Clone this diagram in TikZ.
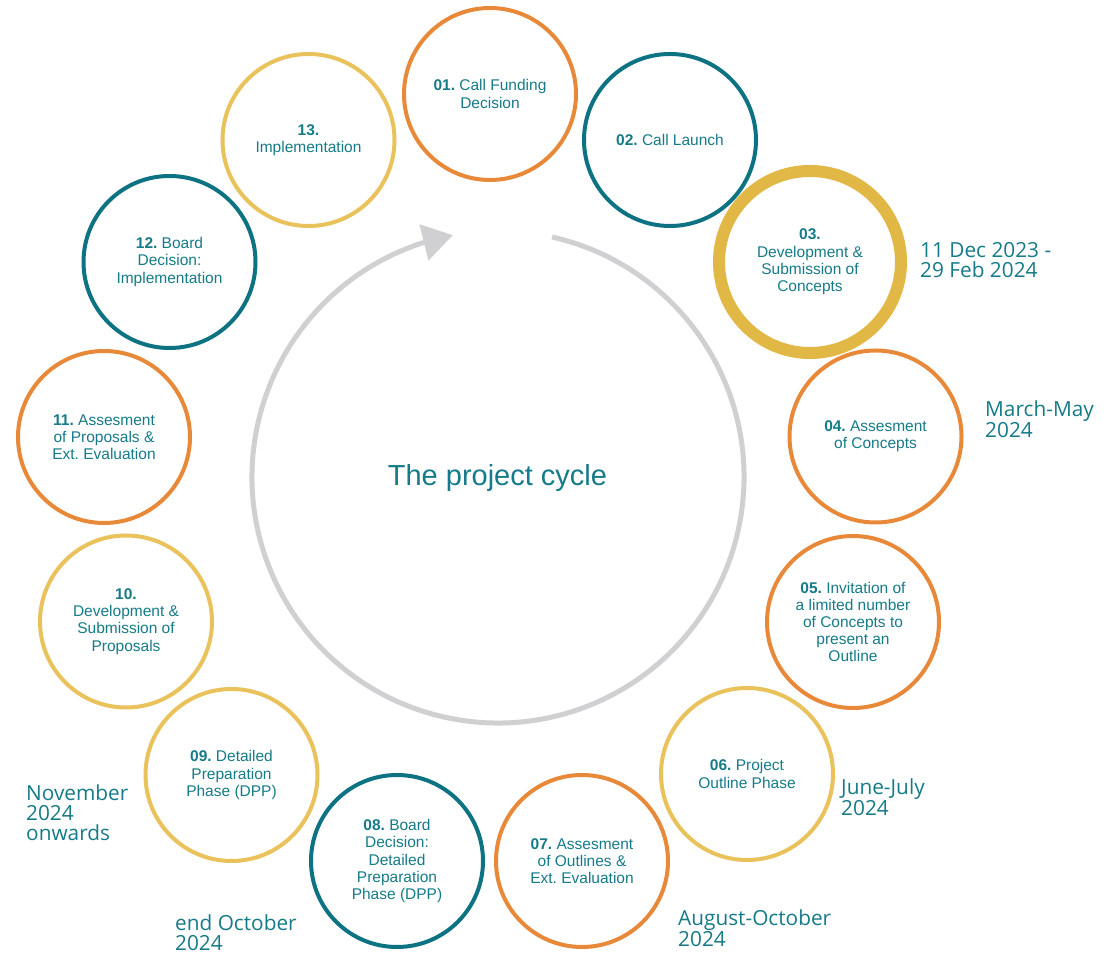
\documentclass[tikz,border=0pt]{standalone}
\usepackage{fontspec}
\usetikzlibrary{arrows.meta,bending}
\newfontfamily\cfont{Liberation Sans}
\newfontfamily\dfont{Open Sans}
\definecolor{corange}{HTML}{E8893A}
\definecolor{cteal}{HTML}{0D7383}
\definecolor{cyellow}{HTML}{EAC25C}
\definecolor{cgold}{HTML}{E1B746}
\definecolor{tealtxt}{HTML}{167B88}
\definecolor{cgray}{HTML}{D0CFD1}
\frenchspacing
\tikzset{
  ring/.style={circle, draw=#1, line width=4pt, minimum size=172pt, inner sep=0pt,
    text=tealtxt, font=\cfont\fontsize{15.5}{17.2}\selectfont\frenchspacing, align=center},
  datelbl/.style={anchor=base west, inner sep=0pt, text=tealtxt,
    font=\dfont\fontsize{20.8}{20}\selectfont, align=left},
}
\begin{document}
\begin{tikzpicture}[x=1pt,y=1pt]
\fill[white] (0,0) rectangle (1118,955);
\useasboundingbox (0,0) rectangle (1118,955);

% central cycle
\coordinate (cyc) at (498,478);
\draw[cgray, line width=5pt, -{Triangle[length=29.7pt,width=37.4pt,line width=0pt,flex]}]
  (cyc) ++(77.3:246) arc[start angle=77.3, end angle=-259.4, radius=246];
\node[text=tealtxt, font=\cfont\fontsize{29}{32}\selectfont] (title) at (497.5,477) {The project cycle};

% circles
\node[ring=corange] (c01) at (490,861) {\textbf{01.} Call Funding\\Decision};
\node[ring=cteal] (c02) at (670,815) {\textbf{02.} Call Launch};
\node[ring=cgold, line width=12pt, minimum size=182pt] (c03) at (810,693) {\textbf{03.}\\Development \&\\Submission of\\Concepts};
\node[ring=corange] (c04) at (875.5,518.5) {\textbf{04.} Assesment\\of Concepts};
\node[ring=corange] (c05) at (853,333) {\textbf{05.} Invitation of\\a limited number\\of Concepts to\\present an\\Outline};
\node[ring=cyellow] (c06) at (747,181) {\textbf{06.} Project\\Outline Phase};
\node[ring=corange] (c07) at (582,94) {\textbf{07.} Assesment\\of Outlines \&\\Ext. Evaluation};
\node[ring=cteal] (c08) at (397,94) {\textbf{08.} Board\\Decision:\\Detailed\\Preparation\\Phase (DPP)};
\node[ring=cyellow] (c09) at (231.5,180) {\textbf{09.} Detailed\\Preparation\\Phase (DPP)};
\node[ring=cyellow] (c10) at (126,333.5) {\textbf{10.}\\Development \&\\Submission of\\Proposals};
\node[ring=corange] (c11) at (104,518) {\textbf{11.} Assesment\\of Proposals \&\\Ext. Evaluation};
\node[ring=cteal] (c12) at (169.5,693) {\textbf{12.} Board\\Decision:\\Implementation};
\node[ring=cyellow] (c13) at (308.5,815) {\textbf{13.}\\Implementation};

% date labels (anchor at baseline of last line)
\node[datelbl] (d03) at (920,677.7) {11 Dec 2023 -\\29 Feb 2024};
\node[datelbl] (d04) at (985,517.7) {March-May\\2024};
\node[datelbl] (d06) at (841,139) {June-July\\2024};
\node[datelbl] (d07) at (678,8.3) {August-October\\2024};
\node[datelbl] (d08) at (175,5) {end October\\2024};
\node[datelbl] (d09) at (26,114) {November\\2024\\onwards};
\end{tikzpicture}
\end{document}
